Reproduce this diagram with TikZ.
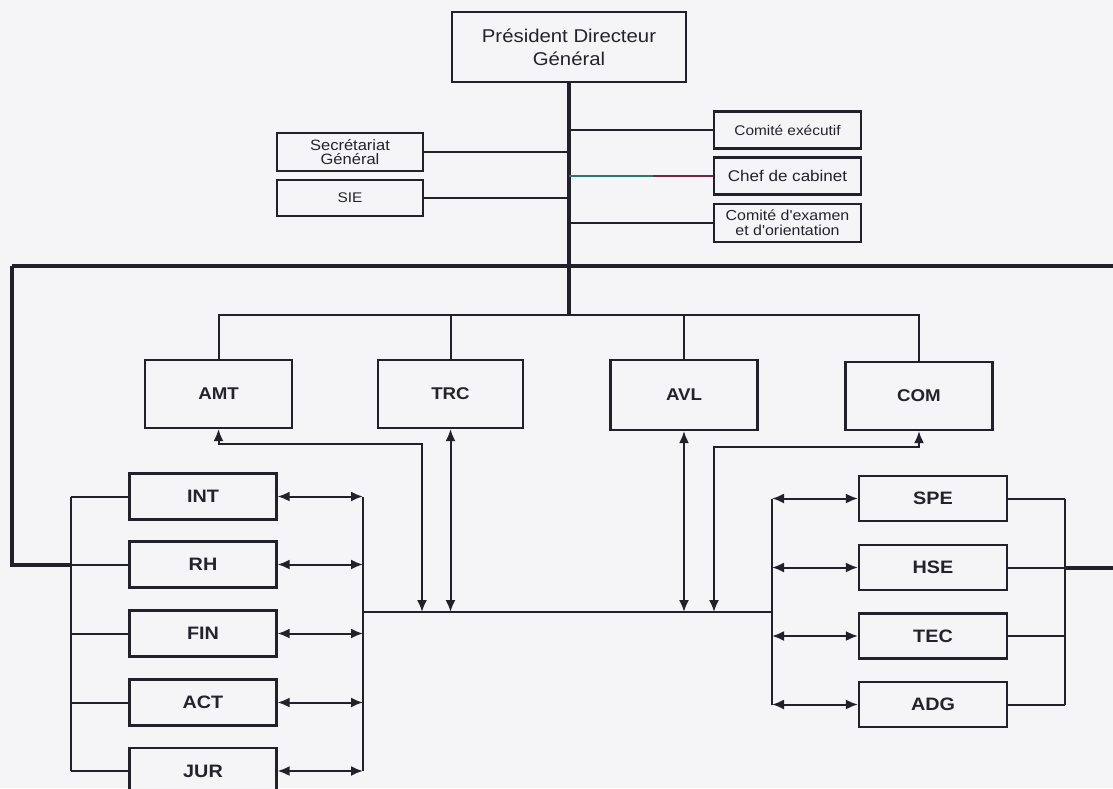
\documentclass[tikz,border=0pt]{standalone}
\usepackage{fontspec}
\setmainfont{Liberation Sans}
\newfontfamily\lbl[FakeStretch=1.1]{Liberation Sans}
\usetikzlibrary{arrows.meta}
\definecolor{paper}{RGB}{245,245,248}
\definecolor{ink}{RGB}{34,32,40}
\definecolor{txt}{RGB}{36,34,42}
\definecolor{tealline}{RGB}{40,120,110}
\definecolor{redline}{RGB}{110,40,64}
\tikzset{
  box/.style={draw=ink, line width=2.2pt, fill=paper, inner sep=0pt, align=center,
              text=txt, font=\lbl\fontsize{14}{16}\selectfont},
  bigbox/.style={box, font=\lbl\fontsize{18.5}{23}\selectfont},
  unit/.style={box, minimum width=147pt, minimum height=68pt,
               font=\lbl\bfseries\fontsize{17}{20}\selectfont},
  dept/.style={box, minimum width=147pt, minimum height=46pt,
               font=\lbl\bfseries\fontsize{18}{21}\selectfont},
  staff/.style={box, minimum width=147pt, minimum height=37pt},
  link/.style={draw=ink, line width=2pt},
  heavy/.style={draw=ink, line width=4pt},
  both/.style={link, {Latex[length=12pt,width=10pt]}-{Latex[length=12pt,width=10pt]}},
}
\begin{document}
\begin{tikzpicture}[x=1pt,y=-1pt]
  \fill[paper] (0,0) rectangle (1113,788);
  \useasboundingbox (0,0) rectangle (1113,788);
  \clip (0,0) rectangle (1113,788);

  % top of the organisation
  \node[bigbox, minimum width=234pt, minimum height=70pt] (pdg) at (569,47)
       {Président Directeur\\Général};

  % staff bodies attached to the trunk
  \node[staff] (cex) at (787.5,130) {Comité exécutif};
  \node[staff, font=\lbl\fontsize{15.5}{17}\selectfont] (cab) at (787.5,176) {Chef de cabinet};
  \node[staff, minimum height=38pt, font=\lbl\fontsize{14.5}{15}\selectfont] (cxo) at (787.5,223)
       {Comité d'examen\\et d'orientation};
  \node[staff, minimum width=146pt, minimum height=38pt, font=\lbl\fontsize{15}{14}\selectfont]
       (sg) at (350,152) {Secrétariat\\Général};
  \node[staff, minimum width=146pt, minimum height=36pt] (sie) at (350,198) {SIE};

  % operational divisions
  \node[unit] (amt) at (218.5,394) {AMT};
  \node[unit, minimum width=145pt] (trc) at (450.5,394) {TRC};
  \node[unit, minimum height=70pt] (avl) at (684,395) {AVL};
  \node[unit] (com) at (919,396) {COM};

  % support departments, left
  \node[dept] (int) at (203,496.5) {INT};
  \node[dept] (rh)  at (203,564.5) {RH};
  \node[dept] (fin) at (203,633.5) {FIN};
  \node[dept] (act) at (203,702.5) {ACT};
  \node[dept] (jur) at (203,771)   {JUR};

  % support departments, right
  \node[dept, minimum width=148pt, minimum height=45pt] (spe) at (933,498.5) {SPE};
  \node[dept, minimum width=148pt, minimum height=45pt] (hse) at (933,567.5) {HSE};
  \node[dept, minimum width=148pt, minimum height=45pt] (tec) at (933,636)   {TEC};
  \node[dept, minimum width=148pt, minimum height=45pt] (adg) at (933,704.5) {ADG};

  % bus points
  \coordinate (trunkend) at (569,315);
  \coordinate (lframe) at (12,266);
  \coordinate (rframe) at (1113,266);
  \coordinate (louter) at (71,0);
  \coordinate (linner) at (363,0);
  \coordinate (rinner) at (772,0);
  \coordinate (router) at (1065,0);
  \coordinate (redge) at (1113,0);
  \coordinate (midbus) at (0,612);

  % trunk and frame
  \path[heavy] (pdg.south) -- (trunkend);
  \path[heavy] (lframe) -- (rframe);
  \path[heavy] (lframe) -- (lframe |- rh.west) -- (louter |- rh.west);
  \path[link] (louter |- rh.west) -- (rh.west);

  % staff links
  \path[link] (cex.west) -- (cex.west -| pdg.south);
  \path[draw=tealline, line width=2pt] (cab.west -| pdg.south) -- (653,176);
  \path[draw=redline, line width=2pt] (653,176) -- (cab.west);
  \path[link] (cxo.west) -- (cxo.west -| pdg.south);
  \path[link] (sg.east) -- (sg.east -| pdg.south);
  \path[link] (sie.east) -- (sie.east -| pdg.south);

  % division bus
  \path[link] (amt.north) |- (trunkend) -| (com.north);
  \path[link] (trc.north) -- (trc.north |- trunkend);
  \path[link] (avl.north) -- (avl.north |- trunkend);

  % exchanges between divisions and the central bus
  \path[both] (amt.south) |- (422,444) -- (422,612);
  \path[both] (trc.south) -- (trc.south |- midbus);
  \path[both] (avl.south) -- (avl.south |- midbus);
  \path[both] (com.south) |- (714,447) -- (714,612);
  \path[link] (linner |- midbus) -- (rinner |- midbus);

  % left department buses
  \path[link] (louter |- int.west) -- (louter |- jur.west);
  \path[link] (linner |- int.east) -- (linner |- jur.east);
  \foreach \d in {int,fin,act,jur} {
    \path[link] (louter |- \d.west) -- (\d.west);
  }
  \foreach \d in {int,rh,fin,act,jur} {
    \path[both] (\d.east) -- (linner |- \d.east);
  }

  % right department buses
  \path[link] (rinner |- spe.west) -- (rinner |- adg.west);
  \path[link] (router |- spe.east) -- (router |- adg.east);
  \foreach \d in {spe,hse,tec,adg} {
    \path[both] (rinner |- \d.west) -- (\d.west);
    \path[link] (\d.east) -- (router |- \d.east);
  }
  \path[heavy] (router |- hse.east) -- (redge |- hse.east);
\end{tikzpicture}
\end{document}
